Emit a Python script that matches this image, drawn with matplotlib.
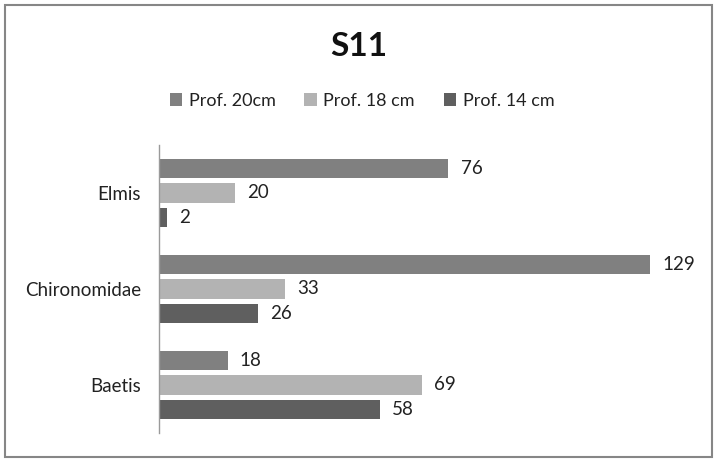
import matplotlib
matplotlib.use("Agg")
import matplotlib.pyplot as plt
from matplotlib.patches import Rectangle, Patch

plt.rcParams['font.family'] = ['Lato', 'DejaVu Sans']

categories = ["Baetis", "Chironomidae", "Elmis"]
series_names = ["Prof. 20cm", "Prof. 18 cm", "Prof. 14 cm"]
prof_20 = [18, 129, 76]
prof_18 = [69, 33, 20]
prof_14 = [58, 26, 2]
colors = ["#808080", "#b3b3b3", "#5f5f5f"]

W, H = 717, 462
fig = plt.figure(figsize=(W / 100, H / 100), dpi=100)

# outer chart border
fig.patches.append(Rectangle((5 / W, 5 / H), 707 / W, 452 / H, transform=fig.transFigure,
                             fill=False, edgecolor="#868686", linewidth=1.5))

x0, x1 = 159, 692
y_top, y_bot = 145, 433
ax = fig.add_axes([x0 / W, 1 - y_bot / H, (x1 - x0) / W, (y_bot - y_top) / H])

offsets = [0.255, 0.0, -0.255]
bar_h = 0.2
for vals, off, col in zip([prof_20, prof_18, prof_14], offsets, colors):
    ys = [i + off for i in range(len(categories))]
    ax.barh(ys, vals, height=bar_h, color=col)
    for y, v in zip(ys, vals):
        ax.text(v + 3.2, y, str(v), va="center", ha="left", fontsize=13.5, color="#222222")

ax.set_xlim(0, 140)
ax.set_ylim(-0.5, 2.5)
ax.set_yticks(range(len(categories)))
ax.set_yticklabels(categories, fontsize=13.5, color="#222222")
ax.tick_params(axis="y", length=0, pad=13)
ax.set_xticks([])
for s in ["top", "right", "bottom"]:
    ax.spines[s].set_visible(False)
ax.spines["left"].set_color("#9a9a9a")
ax.spines["left"].set_linewidth(1.0)

fig.text(0.5, 1 - 46 / H, "S11", ha="center", va="center", fontsize=24, fontweight="bold",
         color="#111111")

handles = [Patch(facecolor=c, edgecolor="none") for c in colors]
fig.legend(handles, series_names, loc="center", bbox_to_anchor=(362 / W, 1 - 101 / H),
           ncol=3, frameon=False, fontsize=13, handlelength=0.7, handleheight=0.7,
           handletextpad=0.35, columnspacing=1.6, labelcolor="#222222")

fig.savefig("out.png", dpi=100)
